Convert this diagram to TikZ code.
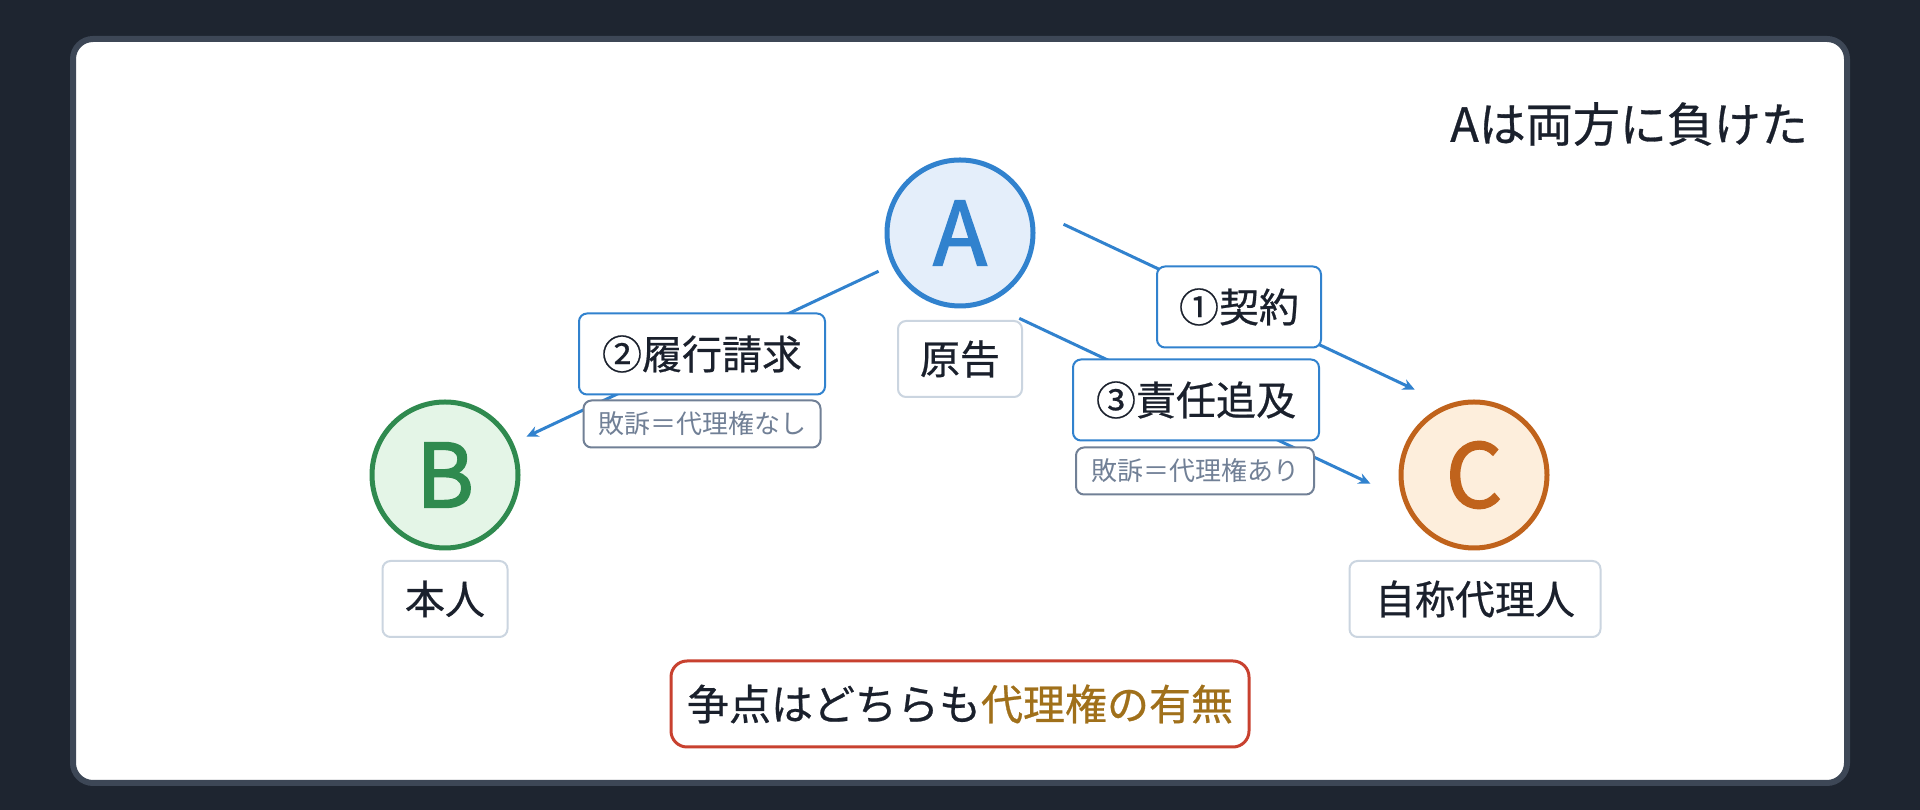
\documentclass[tikz,border=0pt]{standalone}
\usepackage{fontspec}
\newfontfamily\jp{Noto Sans CJK JP}[FakeBold=0.6]
\newfontfamily\jplight{Noto Sans CJK JP}
\newfontfamily\jpletter{Noto Sans CJK JP}[FakeBold=2.2]
\usetikzlibrary{calc}
\usetikzlibrary{arrows.meta}

\definecolor{bgdark}{HTML}{1E2530}
\definecolor{panelrim}{HTML}{3D4756}
\definecolor{inkdark}{HTML}{1A202C}
\definecolor{ablue}{HTML}{3182CE}
\definecolor{afill}{HTML}{E4EEFA}
\definecolor{bgreen}{HTML}{2F8A4F}
\definecolor{bfill}{HTML}{E4F5E7}
\definecolor{corange}{HTML}{C0631C}
\definecolor{cfill}{HTML}{FDEEDC}
\definecolor{boxrim}{HTML}{CBD5E0}
\definecolor{subgray}{HTML}{718096}
\definecolor{issuered}{HTML}{C8412F}
\definecolor{gold}{HTML}{A0701A}

\begin{document}
\begin{tikzpicture}[x=1pt, y=1pt,
    party/.style={circle, line width=5pt, minimum size=146pt, inner sep=0pt,
      font=\jpletter\fontsize{88}{88}\selectfont},
    tag/.style={draw=boxrim, line width=2pt, fill=white, rounded corners=8pt,
      minimum height=76pt, inner sep=0pt, text=inkdark,
      font=\jp\fontsize{40}{40}\selectfont},
    claim/.style={tag, draw=ablue, minimum height=81pt},
    verdict/.style={tag, draw=subgray, minimum height=47pt, text=subgray,
      font=\jplight\fontsize{26}{26}\selectfont},
    link/.style={ablue, line width=3pt, -{Stealth[length=12pt, width=11pt]}}]
      \def\gap{90pt}% arrow ends stay off the circles
      \def\lift{52pt}
      % -------------------------------------------- frame
      \fill[bgdark] (0, 0) rectangle (1920, 810);
      \draw[panelrim, line width=6pt, fill=white, rounded corners=20pt] (73, 27) rectangle (1847, 771);
      \node[anchor=east, inner sep=0pt, text=inkdark, font=\jp\fontsize{47}{47}\selectfont] at (1808, 686) (title) {Aは両方に負けた};
      % -------------------------------------------- parties
      \node[party, draw=ablue, fill=afill, text=ablue] at (960, 577) (A) {A};
      \node[party, draw=bgreen, fill=bfill, text=bgreen] at (445, 335) (B) {B};
      \node[party, draw=corange, fill=cfill, text=corange] at (1474, 335) (C) {C};
      \node[tag, minimum width=124pt] at (960, 451) (plaintiff) {原告};
      \node[tag, minimum width=125pt] at (445, 211) (principal) {本人};
      \node[tag, minimum width=251pt] at (1475, 211) (agent) {自称代理人};
      % -------------------------------------------- claims
      \draw[link] ($(A)!\gap!(C)!\lift!90:(C)$) -- ($(C)!\gap!(A)!\lift!-90:(A)$);
      \draw[link] ($(A)!\gap!(C)!\lift!-90:(C)$) -- ($(C)!\gap!(A)!\lift!90:(A)$);
      \draw[link] ($(A)!\gap!(B)$) -- ($(B)!\gap!(A)$);
      \node[claim, minimum width=164pt] at (1239, 503) (contract) {①契約};
      \node[claim, minimum width=246pt] at (702, 456) (demand) {②履行請求};
      \node[verdict, minimum width=237pt] at (702, 386) (lostB) {敗訴＝代理権なし};
      \node[claim, minimum width=246pt] at (1196, 410) (liability) {③責任追及};
      \node[verdict, minimum width=238pt] at (1195, 339) (lostC) {敗訴＝代理権あり};
      % -------------------------------------------- issue
      \node[tag, draw=issuered, line width=3pt, rounded corners=16pt, minimum width=578pt, minimum height=86pt,
        font=\jp\fontsize{42}{42}\selectfont] at (960, 106) (issue) {争点はどちらも\textcolor{gold}{代理権の有無}};
    \end{tikzpicture}
\end{document}
